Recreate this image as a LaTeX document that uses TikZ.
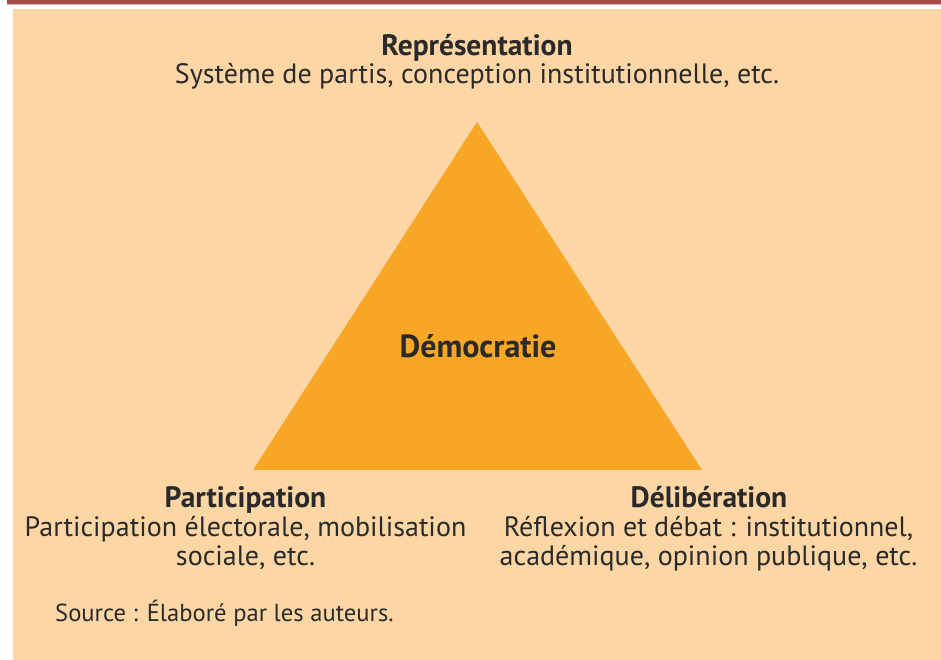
\documentclass[tikz,border=0pt]{standalone}
\usepackage{fontspec}
\setmainfont{PT Sans}
\definecolor{peach}{HTML}{FCD6A4}
\definecolor{tri}{HTML}{F7A626}
\definecolor{band}{HTML}{A64B45}
\definecolor{ink}{HTML}{2A2A2A}
\begin{document}
\begin{tikzpicture}[x=1pt,y=1pt,
  lbl/.style={anchor=base,inner sep=0pt,text=ink,font=\fontsize{28}{32}\selectfont},
  ttl/.style={lbl,font=\fontsize{29.5}{32}\selectfont\bfseries},
  big/.style={lbl,font=\fontsize{32}{36}\selectfont\bfseries},
  src/.style={anchor=base west,inner sep=0pt,text=ink,font=\fontsize{24.6}{28}\selectfont}]
\fill[white] (0,0) rectangle (941,660);
\useasboundingbox (0,0) rectangle (941,660);
\fill[peach] (13,0) rectangle (941,651);
\fill[band] (7,656) rectangle (941,660);
\fill[band!40!white] (7,655) rectangle (941,656);
\coordinate (A) at (477,538);
\coordinate (B) at (253,190);
\coordinate (C) at (702,190);
\fill[tri] (A) -- (B) -- (C) -- cycle;
\node[ttl] (rep) at (477,604) {Représentation};
\node[lbl] (repd) at (477,576) {Système de partis, conception institutionnelle, etc.};
\node[big] (dem) at (478,302) {Démocratie};
\node[ttl] (par) at (245.5,152) {Participation};
\node[lbl] (par1) at (245.5,123) {Participation électorale, mobilisation};
\node[lbl] (par2) at (245.5,94) {sociale, etc.};
\node[ttl] (del) at (709,152) {Délibération};
\node[lbl] (del1) at (708.5,123) {Réflexion et débat : institutionnel,};
\node[lbl] (del2) at (708.5,94) {académique, opinion publique, etc.};
\node[src] (source) at (55,38) {Source : Élaboré par les auteurs.};
\end{tikzpicture}
\end{document}
